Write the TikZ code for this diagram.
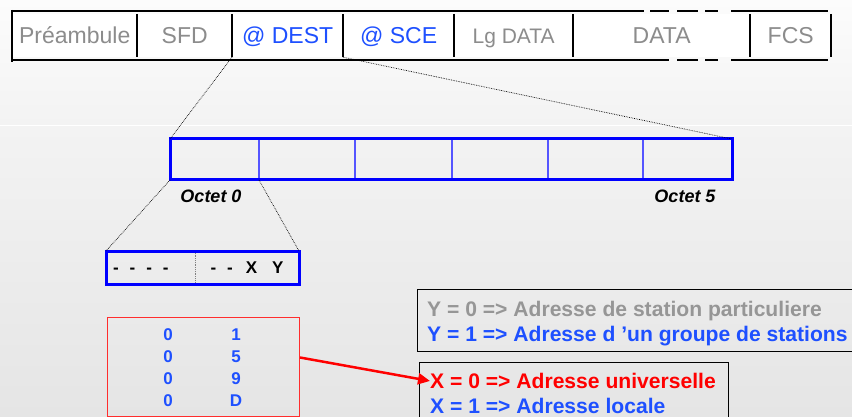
\documentclass[tikz,border=0pt]{standalone}
\usepackage{fontspec}
\setmainfont{Liberation Sans}
\usepackage{xcolor}
\usepackage{tikz}
\usetikzlibrary{arrows.meta, positioning}
\definecolor{fieldgray}{RGB}{140, 140, 140}
\definecolor{addrblue}{RGB}{30, 80, 255}
\definecolor{octblue}{RGB}{0, 0, 255}
\definecolor{cellblue}{RGB}{85, 85, 255}
\definecolor{codered}{RGB}{255, 45, 45}
\definecolor{notegray}{RGB}{150, 150, 150}
\definecolor{bgtop}{RGB}{252, 252, 252}
\definecolor{bgmid}{RGB}{243, 243, 243}
\definecolor{bgbottom}{RGB}{229, 229, 229}
\newcommand{\bitgap}{\hspace{11pt}}

\tikzset{
    field/.style={anchor=west, minimum height=43pt, inner sep=0pt, fill=white,
        text height=16.5pt, text depth=0pt, font=\fontsize{23}{26}\selectfont, text=fieldgray},
    frameline/.style={line width=2pt, black},
    zoomline/.style={densely dotted, line width=0.7pt},
    octcell/.style={draw=cellblue, line width=1.2pt, minimum height=41pt, inner sep=0pt, outer sep=0pt},
    octlabel/.style={font=\fontsize{18}{20}\selectfont\bfseries\itshape, inner sep=0pt,
        text height=13pt, text depth=0pt},
    bitcell/.style={minimum height=33pt, inner sep=0pt, outer sep=0pt,
        font=\fontsize{17}{19}\selectfont\bfseries, text height=12pt, text depth=0pt},
    digit/.style={font=\fontsize{17}{19}\selectfont\bfseries, text=addrblue, inner sep=0pt,
        text height=12pt, text depth=0pt},
    notebox/.style={draw=black, line width=1.2pt, anchor=north west, inner sep=0pt},
    noteline/.style={anchor=base west, inner sep=0pt, font=\fontsize{21.1}{25}\selectfont\bfseries},
}

\begin{document}
\begin{tikzpicture}[x=1pt, y=-1pt]
    \useasboundingbox (0,0) rectangle (852,417);
    \shade[top color=bgtop, bottom color=bgmid] (0,0) rectangle (852,125);
    \shade[top color=bgmid, bottom color=bgbottom] (0,126) rectangle (852,417);
    \draw[white, line width=1pt] (0,125.5) -- (852,125.5);

    % trame
    \node[field, minimum width=125pt] (pre) at (12,35.5) {Préambule};
    \node[field, minimum width=95pt] (sfd) at (137,35.5) {SFD};
    \node[field, minimum width=111pt, text=addrblue] (dest) at (232,35.5) {@ DEST};
    \node[field, minimum width=111pt, text=addrblue] (sce) at (343,35.5) {@ SCE};
    \node[field, minimum width=119pt, font=\fontsize{21}{24}\selectfont] (lg) at (454,35.5)
        {Lg DATA\hspace{14pt}};
    \node[field, minimum width=177pt] (data) at (573,35.5) {DATA};
    \node[field, minimum width=81pt] (fcs) at (750,35.5) {FCS};

    \draw[frameline] (12,11) -- (644,11) (650,11) -- (669,11) (677,11) -- (698,11)
        (705,11) -- (718,11) (731,11) -- (828,11);
    \draw[frameline] (12,60) -- (669,60) (677,60) -- (698,60) (705,60) -- (718,60)
        (731,60) -- (828,60);
    \draw[frameline] (12,10) -- (12,62);
    \foreach \f in {pre,sfd,dest,sce,lg}
        \draw[frameline] (\f.north east) -- (\f.south east);
    \draw[frameline] (fcs.north west) -- (fcs.south west) (fcs.north east) -- (fcs.south east);

    % adresse sur 6 octets
    \foreach \a/\b [count=\i from 0] in {170/259, 259/355, 355/452, 452/548, 548/643, 643/732}
        \node[octcell, minimum width={(\b-\a)*1pt}] (oct\i) at ({(\a+\b)/2},159.5) {};
    \draw[octblue, line width=3pt] (oct0.north west) rectangle (oct5.south east);
    \node[octlabel] (lab0) at (211,196) {Octet 0};
    \node[octlabel] (lab5) at (685,196) {Octet 5};

    % octet 0
    \node[bitcell, minimum width=89pt, text width=75pt, align=left] (bitsL) at (150.5,267.5)
        {-\bitgap-\bitgap-\bitgap-};
    \node[bitcell, minimum width=104pt] (bitsR) at (247,267.5)
        {-\bitgap-\hspace{13pt}X\hspace{15pt}Y};
    \draw[gray, densely dotted, line width=0.8pt] (bitsL.north east) -- (bitsL.south east);
    \draw[octblue, line width=3pt] (bitsL.north west) rectangle (bitsR.south east);

    \draw[zoomline] (dest.south west) -- (oct0.north west);
    \draw[zoomline] (sce.south west) -- (oct5.north east);
    \draw[zoomline] (oct0.south west) -- (bitsL.north west);
    \draw[zoomline] (oct0.south east) -- (bitsR.north east);

    % premier octet
    \node[draw=codered, line width=1pt, anchor=north west, minimum width=192pt,
        minimum height=99pt, inner sep=0pt] (codes) at (107,317) {};
    \foreach \d [count=\i] in {1,5,9,D} {
        \node[digit] (hi\i) at (168,{311.7+22.3*\i}) {0};
        \node[digit] (lo\i) at (236,{311.7+22.3*\i}) {\d};
    }

    % bits X et Y
    \node[notebox, minimum width=450pt, minimum height=62pt] (ybox) at (417,289) {};
    \node[noteline, text=notegray] (y0) at (427,316.5) {Y = 0 => Adresse de station particuliere};
    \node[noteline, text=addrblue] (y1) at (427,341.5) {Y = 1 => Adresse d ’un groupe de stations};
    \node[notebox, minimum width=309pt, minimum height=70pt] (xbox) at (419,362) {};
    \node[noteline, text=red] (x0) at (430,388.5) {X = 0 => Adresse universelle};
    \node[noteline, text=addrblue] (x1) at (430,413.5) {X = 1 => Adresse locale};

    \draw[red, line width=2.5pt, -{Triangle[length=12pt, width=11pt]}]
        ([yshift=9.5pt]codes.east) -- (x0.west);
\end{tikzpicture}
\end{document}
